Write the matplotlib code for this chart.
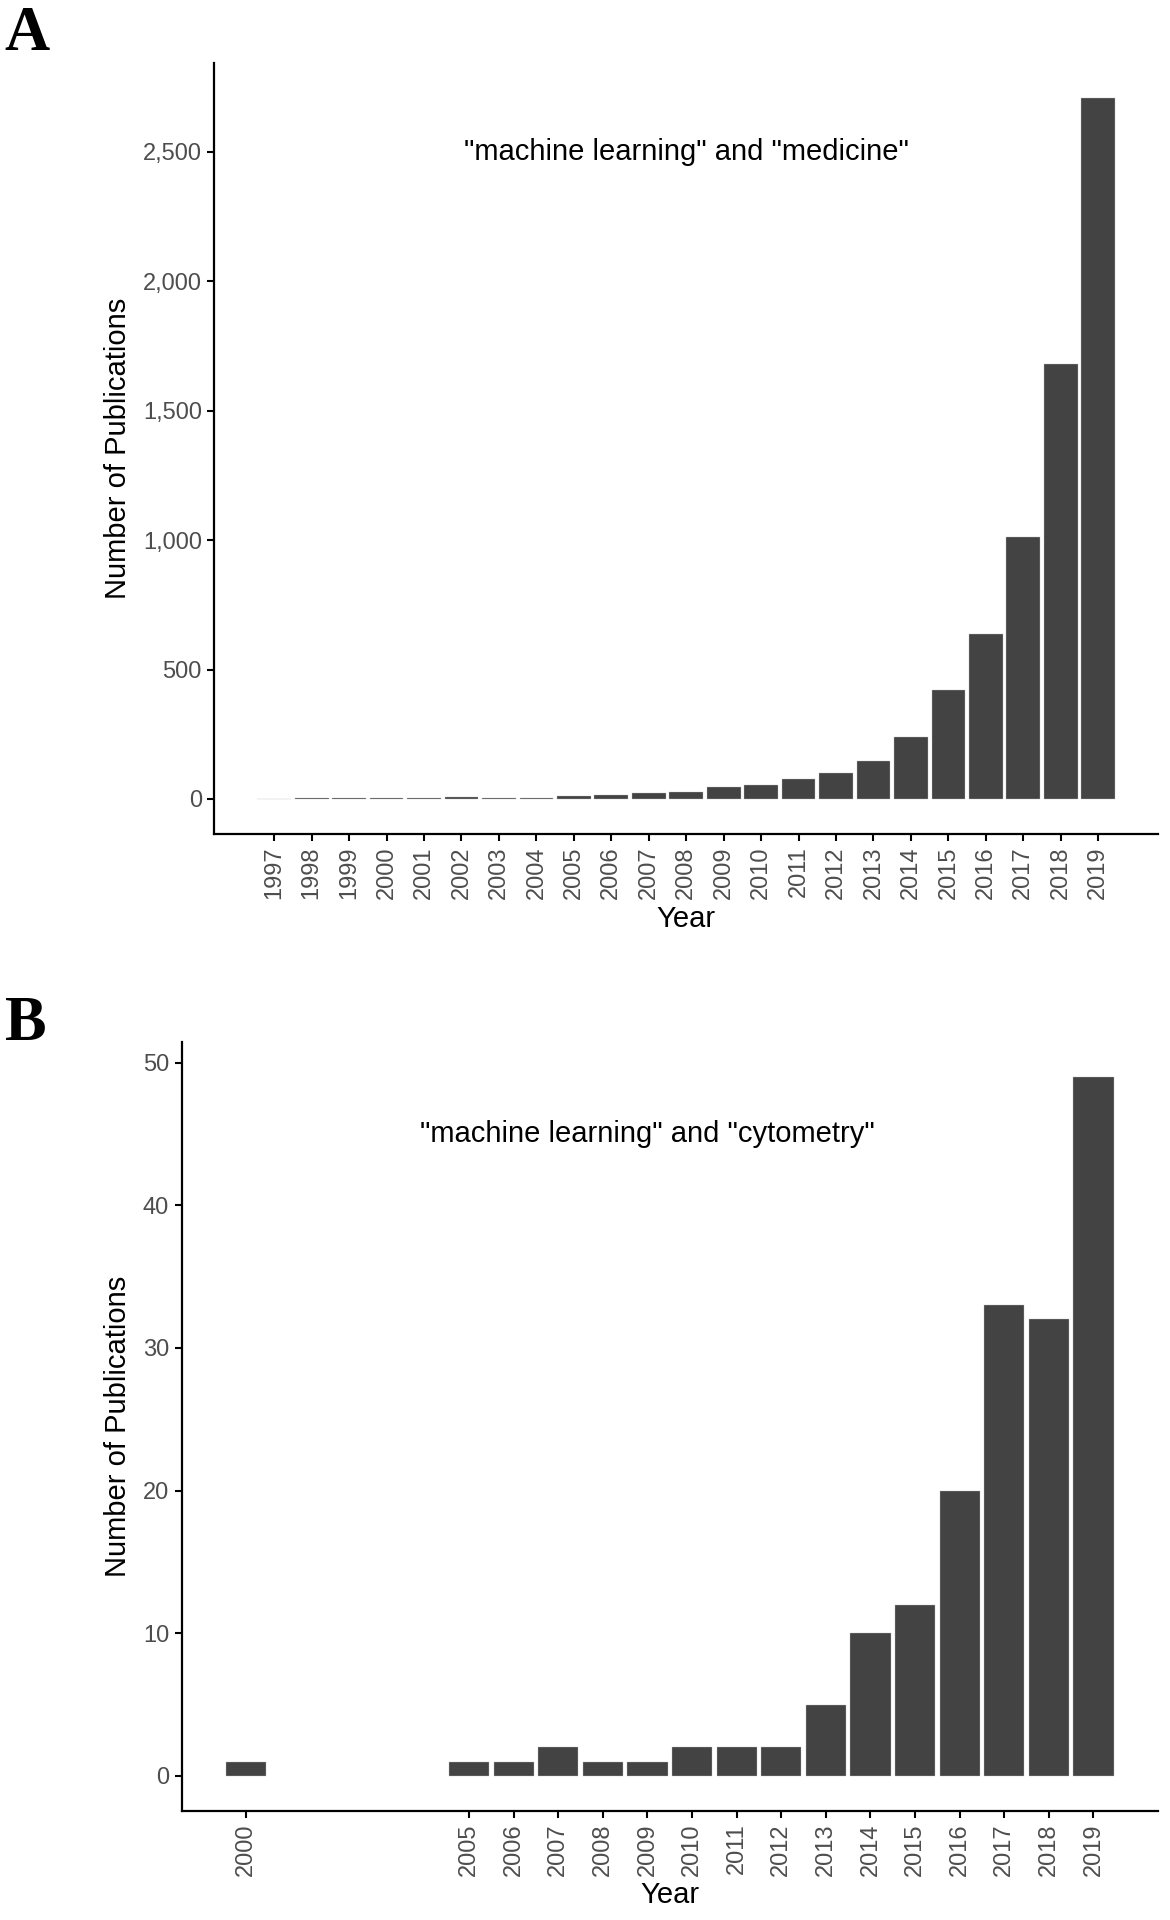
import matplotlib
matplotlib.use("Agg")
import matplotlib.pyplot as plt

# =========================
# DATA
# =========================
years_a = list(range(1997, 2020))
counts_a = [1, 3, 3, 2, 3, 7, 4, 4, 10, 14, 24, 27, 45, 55, 79, 102, 147, 240,
            422, 636, 1013, 1680, 2708]
yticks_a = [0, 500, 1000, 1500, 2000, 2500]
yticklabels_a = ["0", "500", "1,000", "1,500", "2,000", "2,500"]

years_b = [2000, 2005, 2006, 2007, 2008, 2009, 2010, 2011, 2012, 2013, 2014,
           2015, 2016, 2017, 2018, 2019]
counts_b = [1, 1, 1, 2, 1, 1, 2, 2, 2, 5, 10, 12, 20, 33, 32, 49]
yticks_b = [0, 10, 20, 30, 40, 50]

title_a = '"machine learning" and "medicine"'
title_b = '"machine learning" and "cytometry"'

# =========================
# STYLE
# =========================
plt.rcParams["font.family"] = ["Liberation Sans", "DejaVu Sans"]
bar_color = "#434343"
edge_color = "#BDBDBD"
tick_color = "#4D4D4D"
tick_size = 17
title_size = 21


def expand(lo, hi, frac=0.05):
    # ggplot-style 5% padding
    pad = (hi - lo) * frac
    return lo - pad, hi + pad


def style_axes(ax):
    for side in ["top", "right"]:
        ax.spines[side].set_visible(False)
    for side in ["left", "bottom"]:
        ax.spines[side].set_linewidth(1.6)
        ax.spines[side].set_color("black")
    ax.tick_params(axis="both", which="major", length=5, width=1.5,
                   color="black", labelcolor=tick_color, labelsize=tick_size,
                   pad=4)
    ax.tick_params(axis="x", labelrotation=90)


fig = plt.figure(figsize=(11.7, 19.2), dpi=100)

# =========================
# PANEL A
# =========================
ax1 = fig.add_axes([0.1833, 0.5656, 0.8064, 0.4016])
ax1.bar(years_a, counts_a, width=0.9, color=bar_color,
        edgecolor=edge_color, linewidth=0.25)
ax1.set_xlim(*expand(years_a[0] - 0.45, years_a[-1] + 0.45))
ax1.set_ylim(*expand(0, max(counts_a)))
ax1.set_xticks(years_a)
ax1.set_xticklabels([str(y) for y in years_a])
ax1.set_yticks(yticks_a)
ax1.set_yticklabels(yticklabels_a)
style_axes(ax1)
ax1.set_xlabel("Year", fontsize=title_size, va="center")
ax1.set_ylabel("Number of Publications", fontsize=title_size, va="center")
ax1.xaxis.set_label_coords(0.5, -0.110)
ax1.yaxis.set_label_coords(-0.102, 0.5)
ax1.text(2008, 2500, title_a, ha="center", va="center", fontsize=title_size)

# =========================
# PANEL B
# =========================
ax2 = fig.add_axes([0.1552, 0.0568, 0.8345, 0.4005])
ax2.bar(years_b, counts_b, width=0.9, color=bar_color,
        edgecolor=edge_color, linewidth=0.25)
ax2.set_xlim(*expand(years_b[0] - 0.45, years_b[-1] + 0.45))
ax2.set_ylim(*expand(0, max(counts_b)))
ax2.set_xticks(years_b)
ax2.set_xticklabels([str(y) for y in years_b])
ax2.set_yticks(yticks_b)
style_axes(ax2)
ax2.set_xlabel("Year", fontsize=title_size, va="center")
ax2.set_ylabel("Number of Publications", fontsize=title_size, va="center")
ax2.xaxis.set_label_coords(0.5, -0.109)
ax2.yaxis.set_label_coords(-0.065, 0.5)
ax2.text(2009, 45, title_b, ha="center", va="center", fontsize=title_size)

# panel letters
fig.text(0.004, 0.997, "A", family="Liberation Serif", weight="bold",
         fontsize=45, ha="left", va="top")
fig.text(0.004, 0.481, "B", family="Liberation Serif", weight="bold",
         fontsize=45, ha="left", va="top")

fig.savefig("out.png", dpi=100)
